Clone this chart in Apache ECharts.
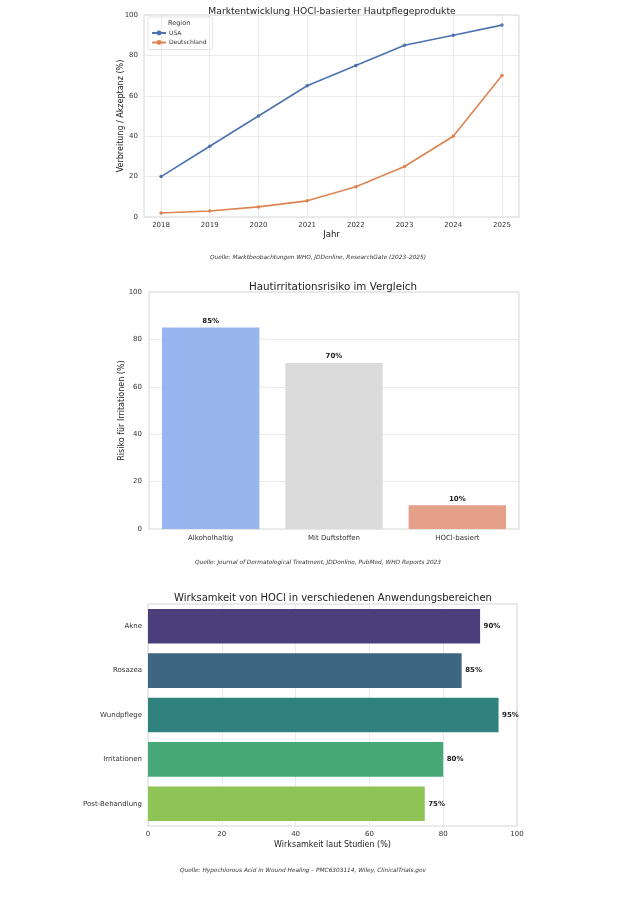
<!DOCTYPE html>
<html><head><meta charset="utf-8">
<script src="https://cdn.jsdelivr.net/npm/echarts@6/dist/echarts.min.js"></script>
<style>html,body{margin:0;padding:0;background:#fff}#c{width:636px;height:900px}</style>
</head><body><div id="c"></div>
<script>
// Chart 1 data
const years = [2018, 2019, 2020, 2021, 2022, 2023, 2024, 2025];
const usaValues = [20, 35, 50, 65, 75, 85, 90, 95];
const deValues = [2, 3, 5, 8, 15, 25, 40, 70];
// Chart 2 data
const riskCategories = ['Alkoholhaltig', 'Mit Duftstoffen', 'HOCl-basiert'];
const riskValues = [85, 70, 10];
// Chart 3 data
const effCategories = ['Akne', 'Rosazea', 'Wundpflege', 'Irritationen', 'Post-Behandlung'];
const effValues = [90, 85, 95, 80, 75];

const FONT = 'DejaVu Sans';
const riskColors = ['#98b5ef', '#dcdbdb', '#e5a08a'];
const effColors = ['#4b3f7b', '#3e6581', '#2f827e', '#46a877', '#8ec356'];
const gridLine = {show: true, lineStyle: {color: '#e6e6e6', width: 0.8}};
const tickLabel = {color: '#333', fontFamily: FONT, fontSize: 7};
const nameStyle = {color: '#222', fontFamily: FONT, fontSize: 8};

const chart = echarts.init(document.getElementById('c'), null, {renderer: 'canvas'});
const option = {
  animation: false,
  backgroundColor: '#fff',
  textStyle: {fontFamily: FONT},
  title: [
    {text: 'Marktentwicklung HOCl-basierter Hautpflegeprodukte', left: 327, top: 2, textAlign: 'center',
     textStyle: {fontFamily: FONT, fontSize: 9.2, fontWeight: 'normal', color: '#222'}},
    {text: 'Hautirritationsrisiko im Vergleich', left: 328, top: 277, textAlign: 'center',
     textStyle: {fontFamily: FONT, fontSize: 10.3, fontWeight: 'normal', color: '#222'}},
    {text: 'Wirksamkeit von HOCl in verschiedenen Anwendungsbereichen', left: 328, top: 588, textAlign: 'center',
     textStyle: {fontFamily: FONT, fontSize: 10, fontWeight: 'normal', color: '#222'}}
  ],
  legend: {
    data: ['USA', 'Deutschland'], orient: 'vertical', left: 148, top: 17,
    padding: [13, 6, 4, 3], itemGap: 3.5, itemWidth: 14, itemHeight: 6,
    borderColor: '#dddddd', borderWidth: 0.8, borderRadius: 2, backgroundColor: 'transparent',
    textStyle: {fontFamily: FONT, fontSize: 6, color: '#333', padding: [0, 0, 0, -2]}
  },
  grid: [
    {left: 144, top: 15, width: 375, height: 202, show: true, borderColor: '#d6d6d6', borderWidth: 1, backgroundColor: 'transparent'},
    {left: 149, top: 292, width: 370, height: 237, show: true, borderColor: '#d6d6d6', borderWidth: 1, backgroundColor: 'transparent'},
    {left: 148, top: 604, width: 369, height: 222, show: true, borderColor: '#d6d6d6', borderWidth: 1, backgroundColor: 'transparent'}
  ],
  xAxis: [
    {gridIndex: 0, type: 'value', min: 2017.65, max: 2025.35,
     axisLine: {show: false}, axisTick: {show: false, customValues: years},
     axisLabel: Object.assign({customValues: years, margin: 5, formatter: v => String(Math.round(v))}, tickLabel),
     splitLine: gridLine,
     name: 'Jahr', nameLocation: 'middle', nameGap: 13, nameTextStyle: Object.assign({}, nameStyle, {fontSize: 8.5})},
    {gridIndex: 1, type: 'category', data: riskCategories,
     axisLine: {show: false}, axisTick: {show: false},
     axisLabel: Object.assign({margin: 6}, tickLabel), splitLine: {show: false}},
    {gridIndex: 2, type: 'value', min: 0, max: 100, interval: 20,
     axisLine: {show: false}, axisTick: {show: false},
     axisLabel: Object.assign({margin: 5}, tickLabel), splitLine: gridLine,
     name: 'Wirksamkeit laut Studien (%)', nameLocation: 'middle', nameGap: 15, nameTextStyle: nameStyle}
  ],
  yAxis: [
    {gridIndex: 0, type: 'value', min: 0, max: 100, interval: 20,
     axisLine: {show: false}, axisTick: {show: false},
     axisLabel: Object.assign({margin: 6}, tickLabel), splitLine: gridLine,
     name: 'Verbreitung / Akzeptanz (%)', nameLocation: 'middle', nameGap: 19, nameMoveOverlap: false, nameTextStyle: nameStyle},
    {gridIndex: 1, type: 'value', min: 0, max: 100, interval: 20,
     axisLine: {show: false}, axisTick: {show: false},
     axisLabel: Object.assign({margin: 7}, tickLabel), splitLine: gridLine,
     name: 'Risiko für Irritationen (%)', nameLocation: 'middle', nameGap: 23, nameMoveOverlap: false, nameTextStyle: nameStyle},
    {gridIndex: 2, type: 'category', data: effCategories, inverse: true,
     axisLine: {show: false}, axisTick: {show: false},
     axisLabel: Object.assign({margin: 6}, tickLabel), splitLine: {show: false}}
  ],
  series: [
    {name: 'USA', type: 'line', xAxisIndex: 0, yAxisIndex: 0,
     data: years.map((y, i) => [y, usaValues[i]]),
     color: '#4c72b0', lineStyle: {width: 1.6}, symbol: 'circle', symbolSize: 3.5, itemStyle: {color: '#4c72b0'}},
    {name: 'Deutschland', type: 'line', xAxisIndex: 0, yAxisIndex: 0,
     data: years.map((y, i) => [y, deValues[i]]),
     color: '#dd8452', lineStyle: {width: 1.6}, symbol: 'circle', symbolSize: 3.5, itemStyle: {color: '#dd8452'}},
    {type: 'bar', xAxisIndex: 1, yAxisIndex: 1, barWidth: '79%',
     data: riskValues.map((v, i) => ({value: v, itemStyle: {color: riskColors[i]}})),
     label: {show: true, position: 'top', distance: 3, formatter: p => p.value + '%',
             fontFamily: FONT, fontSize: 7, fontWeight: 'bold', color: '#222'}},
    {type: 'bar', xAxisIndex: 2, yAxisIndex: 2, barWidth: '78%',
     data: effValues.map((v, i) => ({value: v, itemStyle: {color: effColors[i]}})),
     label: {show: true, position: 'right', distance: 3.5, formatter: p => p.value + '%',
             fontFamily: FONT, fontSize: 7, fontWeight: 'bold', color: '#222'}}
  ],
  graphic: [
    {type: 'text', left: 168, top: 20, z: 100, style: {text: 'Region', fontFamily: FONT, fontSize: 6.5, fill: '#333'}},
    {type: 'text', x: 318, y: 257, style: {text: 'Quelle: Marktbeobachtungen WHO, JDDonline, ResearchGate (2023–2025)', fontFamily: FONT, fontStyle: 'italic', fontSize: 5.8, fill: '#333', align: 'center', verticalAlign: 'middle'}},
    {type: 'text', x: 318, y: 562, style: {text: 'Quelle: Journal of Dermatological Treatment, JDDonline, PubMed, WHO Reports 2023', fontFamily: FONT, fontStyle: 'italic', fontSize: 5.8, fill: '#333', align: 'center', verticalAlign: 'middle'}},
    {type: 'text', x: 303, y: 870, style: {text: 'Quelle: Hypochlorous Acid in Wound Healing – PMC6303114, Wiley, ClinicalTrials.gov', fontFamily: FONT, fontStyle: 'italic', fontSize: 5.8, fill: '#333', align: 'center', verticalAlign: 'middle'}}
  ]
};
chart.setOption(option);
</script></body></html>
